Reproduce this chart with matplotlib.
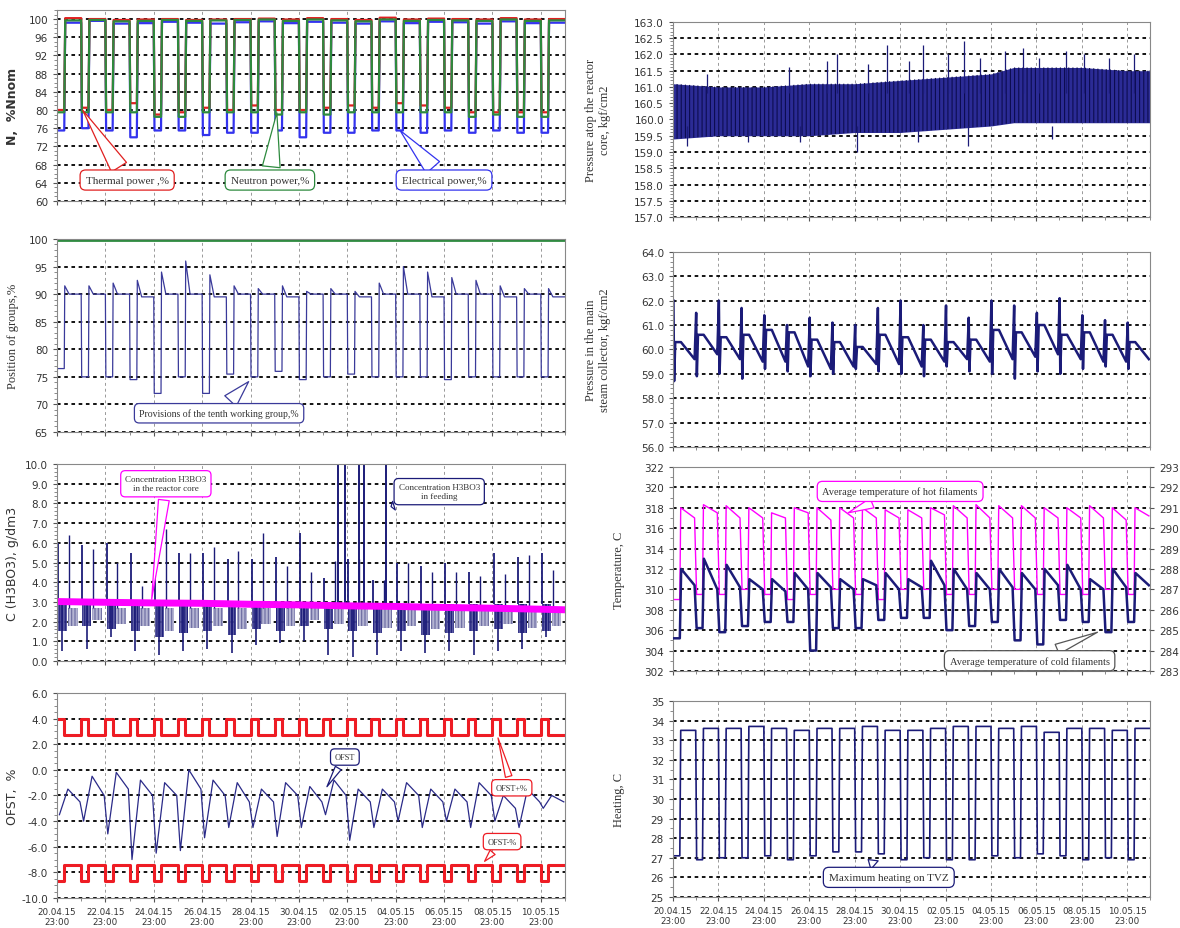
import matplotlib
matplotlib.use('Agg')
import matplotlib.pyplot as plt
import numpy as np
from matplotlib.ticker import MultipleLocator, FormatStrFormatter

# ---- data (one value per daily load cycle, 21 cycles) ----
tick_days = [0, 2, 4, 6, 8, 10, 12, 14, 16, 18, 20]
date_labels = ['20.04.15\n23:00', '22.04.15\n23:00', '24.04.15\n23:00', '26.04.15\n23:00',
               '28.04.15\n23:00', '30.04.15\n23:00', '02.05.15\n23:00', '04.05.15\n23:00',
               '06.05.15\n23:00', '08.05.15\n23:00', '10.05.15\n23:00']

# power, %Nnom
thermal_day = [100.2, 100.0, 99.8, 99.9, 100.0, 99.8, 99.9, 100.0, 100.1, 99.9, 100.2, 100.0, 99.8, 100.3, 99.9, 100.1, 100.0, 99.9, 100.2, 99.9, 100.0]
thermal_night = [80.0, 80.5, 80.0, 81.5, 79.0, 79.5, 80.5, 80.0, 81.0, 80.0, 80.0, 80.5, 81.0, 80.5, 81.5, 81.0, 80.5, 79.5, 79.5, 79.5, 79.5]
neutron_day = [99.7, 99.8, 99.5, 99.6, 99.8, 99.6, 99.7, 99.8, 99.9, 99.6, 99.9, 99.7, 99.5, 99.9, 99.6, 99.8, 99.7, 99.6, 99.9, 99.6, 99.7]
neutron_night = [79.5, 79.5, 79.5, 79.5, 78.5, 78.5, 79.5, 79.5, 79.5, 79.0, 79.5, 79.0, 79.5, 79.5, 79.5, 79.5, 79.5, 78.5, 79.0, 78.5, 78.5]
electric_day = [99.2, 99.6, 99.0, 99.1, 99.4, 99.2, 99.0, 99.3, 99.5, 99.1, 99.4, 99.2, 99.0, 99.5, 99.1, 99.4, 99.3, 99.0, 99.5, 99.1, 99.2]
electric_night = [75.5, 76.0, 75.5, 74.0, 75.5, 75.5, 74.5, 75.0, 75.0, 75.5, 74.0, 75.0, 75.0, 75.5, 75.5, 75.0, 75.5, 75.0, 75.5, 75.0, 75.0]

# control rod group 10 position, %
grp_night = [76.5, 75.0, 75.0, 74.5, 72.0, 75.0, 72.0, 75.5, 75.0, 76.0, 74.5, 75.0, 75.5, 75.0, 75.0, 75.0, 74.5, 75.0, 75.0, 75.0, 75.0]
grp_peak = [91.5, 91.5, 92.0, 92.5, 94.0, 96.0, 93.5, 91.5, 91.0, 91.5, 90.5, 91.0, 90.5, 92.0, 95.0, 94.0, 93.0, 92.5, 91.5, 91.0, 91.0]
grp_day = [90.0, 90.0, 90.0, 89.5, 90.0, 90.0, 89.5, 90.0, 90.0, 89.5, 90.0, 90.0, 89.5, 90.0, 90.0, 89.5, 90.0, 90.0, 89.5, 90.0, 89.5]
other_groups = [99.8, 99.8]

# boric acid, g/dm3
core_days = [0, 2, 4, 6, 8, 10, 12, 14, 16, 18, 20, 21]
core_boron = [3.02, 2.98, 2.95, 2.93, 2.88, 2.85, 2.8, 2.77, 2.72, 2.68, 2.63, 2.6]
feed_peak_a = [6.0, 5.9, 6.0, 5.5, 5.5, 5.5, 5.5, 5.2, 5.2, 5.3, 6.5, 4.2, 5.2, 4.1, 5.0, 4.8, 5.0, 4.5, 5.5, 5.3, 5.5]
feed_peak_b = [6.4, 5.7, 5.0, 3.8, 6.7, 5.5, 5.8, 5.6, 6.5, 4.8, 4.5, 5.1, 5.2, 4.1, 5.0, 4.5, 4.5, 4.3, 4.4, 5.4, 4.6]
feed_body = [1.5, 1.8, 1.6, 1.5, 1.2, 1.4, 1.5, 1.3, 1.6, 1.5, 1.8, 1.6, 1.5, 1.4, 1.5, 1.3, 1.4, 1.5, 1.6, 1.4, 1.5]
feed_min = [0.5, 0.6, 1.2, 0.5, 0.3, 0.5, 0.6, 0.4, 0.8, 0.9, 1.0, 0.3, 0.2, 0.3, 0.5, 0.4, 0.5, 0.3, 0.5, 0.6, 1.2]
feed_surge_days = [11.6, 11.9, 12.5, 12.7, 13.6]
feed_surge_top = [10.0, 10.0, 10.0, 10.0, 10.0]

# axial offset, %
ofst_min = [-3.5, -4.0, -5.0, -7.0, -6.5, -6.3, -5.3, -4.5, -4.5, -5.2, -4.5, -3.5, -5.5, -4.5, -4.0, -4.5, -4.0, -4.5, -4.0, -4.5, -3.0]
ofst_max = [-1.5, -0.5, -0.2, -0.8, -1.0, 0.0, -0.8, -1.0, -1.5, -1.0, -1.3, -0.8, -1.5, -1.5, -1.0, -1.5, -1.5, -1.0, -2.0, -1.5, -2.0]
ofst_eve = [-2.5, -2.0, -1.5, -2.0, -2.0, -1.5, -2.0, -2.5, -2.5, -2.0, -2.5, -2.0, -2.5, -2.5, -2.0, -2.5, -2.5, -2.0, -3.0, -2.5, -2.5]
ofst_plus = [4.0, 2.7]    # night, day
ofst_minus = [-8.7, -7.4]  # night, day

# pressure above the core, kgf/cm2
press_days = [0, 2, 4, 6, 8, 10, 12, 14, 15, 16, 18, 20, 21]
press_lo = [159.4, 159.5, 159.5, 159.5, 159.6, 159.6, 159.7, 159.8, 159.9, 159.9, 159.9, 159.9, 159.9]
press_hi = [161.1, 161.0, 161.0, 161.1, 161.1, 161.2, 161.3, 161.4, 161.6, 161.6, 161.6, 161.5, 161.5]
press_spike_days = [1.5, 5.1, 6.8, 7.2, 8.6, 9.4, 10.4, 11.0, 12.1, 12.8, 13.5, 14.6, 15.4, 16.1, 17.3, 18.1, 19.2, 20.3]
press_spike_top = [161.4, 161.6, 161.8, 162.0, 161.7, 162.3, 161.8, 162.3, 162.0, 162.4, 161.9, 162.1, 162.2, 161.9, 162.1, 162.0, 161.9, 162.0]
press_dip_days = [0.6, 3.3, 5.6, 8.1, 10.8, 13.0, 16.7]
press_dip_bot = [159.2, 159.3, 159.3, 159.0, 159.3, 159.2, 159.4]

# main steam collector pressure, kgf/cm2
steam_spike = [62.0, 61.5, 62.0, 61.7, 61.4, 61.0, 61.3, 61.1, 61.0, 61.7, 62.0, 61.0, 61.8, 61.3, 62.0, 61.8, 61.5, 62.1, 61.4, 61.2, 61.1]
steam_dip = [58.7, 58.9, 59.0, 58.8, 59.2, 59.1, 58.9, 59.0, 59.2, 59.1, 59.0, 58.9, 59.3, 59.1, 59.0, 58.8, 59.1, 59.0, 59.2, 59.3, 59.2]
steam_night = [60.3, 60.6, 60.5, 60.6, 60.8, 60.7, 60.4, 60.3, 60.1, 60.6, 60.5, 60.4, 60.3, 60.4, 60.8, 60.7, 61.0, 60.6, 60.7, 60.6, 60.3]
steam_eve = [59.6, 59.8, 59.6, 59.5, 59.5, 59.3, 59.2, 59.3, 59.4, 59.4, 59.3, 59.5, 59.6, 59.5, 59.6, 59.7, 59.8, 59.6, 59.5, 59.5, 59.6]

# hot leg temperature (left axis), C
hot_night = [309.0, 309.5, 309.5, 310.0, 309.5, 309.0, 309.5, 310.0, 309.5, 309.0, 310.0, 310.0, 309.5, 309.5, 310.0, 310.0, 309.5, 309.5, 309.5, 310.0, 309.5]
hot_peak = [318.0, 318.3, 318.2, 318.0, 317.5, 318.0, 318.0, 318.0, 318.0, 317.8, 317.8, 318.0, 318.2, 318.3, 318.2, 318.2, 318.0, 318.0, 318.2, 318.0, 318.0]
hot_eve = [317.0, 317.5, 317.0, 317.0, 317.0, 317.5, 316.8, 317.0, 317.0, 317.0, 317.0, 317.3, 317.0, 317.0, 317.0, 317.0, 317.0, 317.0, 317.0, 316.8, 317.2]
# cold leg temperature (right axis), C
cold_low = [284.6, 285.1, 284.9, 285.2, 285.4, 285.4, 284.0, 285.1, 285.1, 285.5, 285.6, 285.6, 285.0, 285.2, 285.4, 284.5, 284.3, 285.5, 285.4, 284.9, 285.4]
cold_peak = [288.0, 288.5, 288.2, 287.5, 287.5, 287.8, 287.8, 287.5, 287.5, 287.8, 287.5, 288.4, 288.0, 287.8, 288.0, 287.8, 288.0, 288.2, 287.5, 288.0, 287.8]
cold_eve = [287.2, 287.0, 287.1, 287.0, 286.9, 287.0, 287.1, 287.0, 287.2, 287.0, 287.1, 287.2, 287.0, 287.0, 287.1, 287.0, 287.2, 287.0, 287.0, 287.1, 287.2]

# core heating, C
heat_day = [33.5, 33.6, 33.6, 33.7, 33.6, 33.5, 33.6, 33.6, 33.7, 33.5, 33.5, 33.6, 33.7, 33.7, 33.6, 33.7, 33.4, 33.6, 33.6, 33.5, 33.6]
heat_night = [27.1, 26.9, 27.0, 27.0, 27.1, 26.9, 27.1, 27.3, 27.3, 27.2, 26.9, 27.0, 26.9, 26.9, 27.1, 27.0, 27.2, 27.1, 26.9, 27.0, 26.9]

NAVY = '#1b1b78'
SERIF = 'Liberation Serif'
plt.rcParams['hatch.linewidth'] = 0.8


def daily_trace(levels):
    # levels: list of (offset within day, per-day values)
    xs, ys = [], []
    for k in range(len(levels[0][1])):
        for off, vals in levels:
            xs.append(k + off)
            ys.append(vals[k])
    return xs, ys


def style_axes(ax, ylim, major, minor, fmt, bottom=False):
    ax.set_xlim(0, 21)
    ax.set_ylim(*ylim)
    ax.yaxis.set_major_locator(MultipleLocator(major))
    ax.yaxis.set_minor_locator(MultipleLocator(minor))
    ax.yaxis.set_major_formatter(FormatStrFormatter(fmt))
    ax.set_xticks(tick_days)
    ax.xaxis.set_minor_locator(MultipleLocator(1))
    if bottom:
        ax.set_xticklabels(date_labels)
    else:
        ax.set_xticklabels([])
    ax.tick_params(axis='both', which='major', labelsize=7.5, length=3, colors='#555555', labelcolor='#333333')
    ax.tick_params(axis='both', which='minor', length=2, colors='#777777')
    ax.tick_params(axis='x', labelsize=6.3)
    for s in ax.spines.values():
        s.set_color('#888888')
    ax.grid(True, axis='y', which='major', color='black', linestyle=(0, (2, 2)), linewidth=1.3)
    ax.grid(True, axis='x', which='major', color='#999999', linestyle=(0, (3, 3)), linewidth=0.7)
    ax.set_axisbelow(True)


def callout(ax, text, xy, xytext, color, size=8, width=1.6):
    ax.annotate(text, xy=xy, xytext=xytext, ha='center', va='center', fontsize=size,
                family=SERIF, color='#333333',
                bbox=dict(boxstyle='round,pad=0.5', fc='white', ec=color, lw=0.9),
                arrowprops=dict(arrowstyle='wedge,tail_width=%.1f,shrink_factor=0.5' % width,
                                fc='white', ec=color, lw=0.9))


fig = plt.figure(figsize=(11.8, 9.29), dpi=100)
lx, lw_ = 57 / 1180, 508 / 1180
rx, rw = 673 / 1180, 477 / 1180

# ---- left 1: power ----
ax1 = fig.add_axes([lx, 0.7826, lw_, 0.2056])
style_axes(ax1, (60, 102), 4, 1, '%d')
for day, night, col in [(electric_day, electric_night, '#3333ee'),
                        (thermal_day, thermal_night, '#e02020'),
                        (neutron_day, neutron_night, '#2d8a3e')]:
    x, y = daily_trace([(0.03, night), (0.3, night), (0.34, day), (1.0, day)])
    ax1.plot(x, y, color=col, lw=1.6)
ax1.set_ylabel('N,  %Nnom', fontsize=9, fontweight='bold', color='#333333')
ax1.yaxis.set_label_coords(-0.075, 0.5)
callout(ax1, 'Thermal power ,%', (1.0, 80.5), (2.9, 64.6), '#e02020')
callout(ax1, 'Neutron power,%', (9.1, 80), (8.8, 64.6), '#2d8a3e')
callout(ax1, 'Electrical power,%', (14.1, 76), (16.0, 64.6), '#3333ee')

# ---- left 2: group position ----
ax2 = fig.add_axes([lx, 0.5339, lw_, 0.2078])
style_axes(ax2, (65, 100), 5, 1, '%d')
ax2.plot([0, 21], other_groups, color='#2d8a3e', lw=2)
x, y = daily_trace([(0.02, grp_night), (0.3, grp_night), (0.32, grp_peak), (0.5, grp_day), (1.0, grp_day)])
ax2.plot(x, y, color='#3a3a9a', lw=0.9)
ax2.set_ylabel('Position of groups,%', fontsize=9, family=SERIF, color='#333333')
ax2.yaxis.set_label_coords(-0.075, 0.5)
callout(ax2, 'Provisions of the tenth working group,%', (8.0, 74.5), (6.7, 68.4), '#3a3a9a', size=7)

# ---- left 3: boric acid ----
ax3 = fig.add_axes([lx, 0.2874, lw_, 0.212])
style_axes(ax3, (0, 10), 1, 0.2, '%.1f')
for k in range(len(feed_body)):
    ax3.fill_between([k + 0.05, k + 0.42], [feed_body[k]] * 2, [2.9, 2.9], facecolor='#4a4a98',
                     edgecolor=NAVY, hatch='||||||', lw=0, alpha=0.9)
    ax3.fill_between([k + 0.45, k + 0.85], [feed_body[k] + 0.3] * 2, [2.7, 2.7], facecolor='#b4b4d2',
                     edgecolor='#6a6aa0', hatch='|||||', lw=0)
ax3.vlines(np.arange(21) + 0.05, 2.9, feed_peak_a, color=NAVY, lw=1.3)
ax3.vlines(np.arange(21) + 0.5, 2.7, feed_peak_b, color=NAVY, lw=1.0)
ax3.vlines(np.arange(21) + 0.22, feed_min, 2.9, color=NAVY, lw=1.2)
ax3.vlines(feed_surge_days, 2.8, feed_surge_top, color=NAVY, lw=1.4)
ax3.plot(core_days, core_boron, color='#ff00ff', lw=5, solid_capstyle='butt')
ax3.set_ylabel('C (H3BO3), g/dm3', fontsize=9, color='#333333')
ax3.yaxis.set_label_coords(-0.075, 0.5)
callout(ax3, 'Concentration H3BO3\nin the reactor core', (3.9, 3.0), (4.5, 9.0), '#ff00ff', size=6.5, width=1.2)
callout(ax3, 'Concentration H3BO3\nin feeding', (13.7, 7.8), (15.8, 8.6), NAVY, size=6.5, width=1.0)

# ---- left 4: offset ----
ax4 = fig.add_axes([lx, 0.0323, lw_, 0.2207])
style_axes(ax4, (-10, 6), 2, 0.5, '%.1f', bottom=True)
for lims in (ofst_plus, ofst_minus):
    night = [lims[0]] * 21
    day = [lims[1]] * 21
    x, y = daily_trace([(0.0, night), (0.3, night), (0.3, day), (1.0, day)])
    ax4.plot(x, y, color='#ee1c24', lw=2.2)
x, y = daily_trace([(0.1, ofst_min), (0.45, ofst_max), (0.95, ofst_eve)])
ax4.plot(x, y, color='#2a2a88', lw=0.9)
ax4.set_ylabel('OFST,  %', fontsize=9, color='#333333')
ax4.yaxis.set_label_coords(-0.075, 0.5)
callout(ax4, 'OFST', (11.1, -1.5), (11.9, 1.0), NAVY, size=6, width=0.8)
callout(ax4, 'OFST+%', (18.2, 2.7), (18.8, -1.4), '#ee1c24', size=6, width=0.8)
callout(ax4, 'OFST-%', (17.6, -7.3), (18.4, -5.6), '#ee1c24', size=6, width=0.8)

# ---- right 1: pressure above core ----
ar1 = fig.add_axes([rx, 0.7653, rw, 0.21])
style_axes(ar1, (157, 163), 0.5, 0.1, '%.1f')
ar1.fill_between(press_days, press_lo, press_hi, color='#2b2b95', lw=0)
ar1.fill_between(press_days, press_lo, press_hi, facecolor='none', edgecolor='#0c0c50',
                 hatch='||||', lw=0)
ar1.vlines(press_spike_days, 160.8, press_spike_top, color=NAVY, lw=0.9)
ar1.vlines(press_dip_days, press_dip_bot, 159.8, color=NAVY, lw=0.9)
ar1.set_ylabel('Pressure atop the reactor\ncore, kgf/cm2', fontsize=9, family=SERIF, color='#333333')
ar1.yaxis.set_label_coords(-0.13, 0.5)

# ---- right 2: steam collector pressure ----
ar2 = fig.add_axes([rx, 0.5178, rw, 0.21])
style_axes(ar2, (56, 64), 1, 0.2, '%.1f')
x, y = daily_trace([(0.02, steam_spike), (0.05, steam_dip), (0.1, steam_night),
                    (0.35, steam_night), (0.95, steam_eve)])
ar2.plot(x, y, color=NAVY, lw=1.8)
ar2.set_ylabel('Pressure in the main\nsteam collector, kgf/cm2', fontsize=9, family=SERIF, color='#333333')
ar2.yaxis.set_label_coords(-0.13, 0.5)

# ---- right 3: temperatures ----
ar3 = fig.add_axes([rx, 0.2767, rw, 0.2196])
style_axes(ar3, (302, 322), 2, 1, '%d')
x, y = daily_trace([(0.04, hot_night), (0.3, hot_night), (0.34, hot_peak), (0.95, hot_eve)])
ar3.plot(x, y, color='#ff00ff', lw=1.0)
ar3b = ar3.twinx()
ar3b.set_ylim(283, 293)
ar3b.yaxis.set_major_locator(MultipleLocator(1))
ar3b.tick_params(axis='y', labelsize=7.5, length=3, colors='#555555', labelcolor='#333333')
x, y = daily_trace([(0.04, cold_low), (0.3, cold_low), (0.36, cold_peak), (0.95, cold_eve)])
ar3b.plot(x, y, color=NAVY, lw=1.8)
for s in ar3b.spines.values():
    s.set_visible(False)
ar3.set_ylabel('Temperature, C', fontsize=9, family=SERIF, color='#333333')
ar3.yaxis.set_label_coords(-0.1, 0.5)
callout(ar3, 'Average temperature of hot filaments', (7.6, 317.4), (10.0, 319.6), '#ff00ff', size=7.5, width=1.0)
callout(ar3, 'Average temperature of cold filaments', (18.8, 305.9), (15.7, 303.0), '#555555', size=7.5, width=1.0)

# ---- right 4: heating ----
ar4 = fig.add_axes([rx, 0.0334, rw, 0.211])
style_axes(ar4, (25, 35), 1, 0.5, '%d', bottom=True)
x, y = daily_trace([(0.04, heat_night), (0.3, heat_night), (0.34, heat_day), (1.0, heat_day)])
ar4.plot(x, y, color=NAVY, lw=1.2)
ar4.set_ylabel('Heating, C', fontsize=9, family=SERIF, color='#333333')
ar4.yaxis.set_label_coords(-0.1, 0.5)
callout(ar4, 'Maximum heating on TVZ', (8.5, 27.0), (9.5, 26.0), NAVY, size=8, width=1.0)

fig.savefig('out.png', dpi=100)
